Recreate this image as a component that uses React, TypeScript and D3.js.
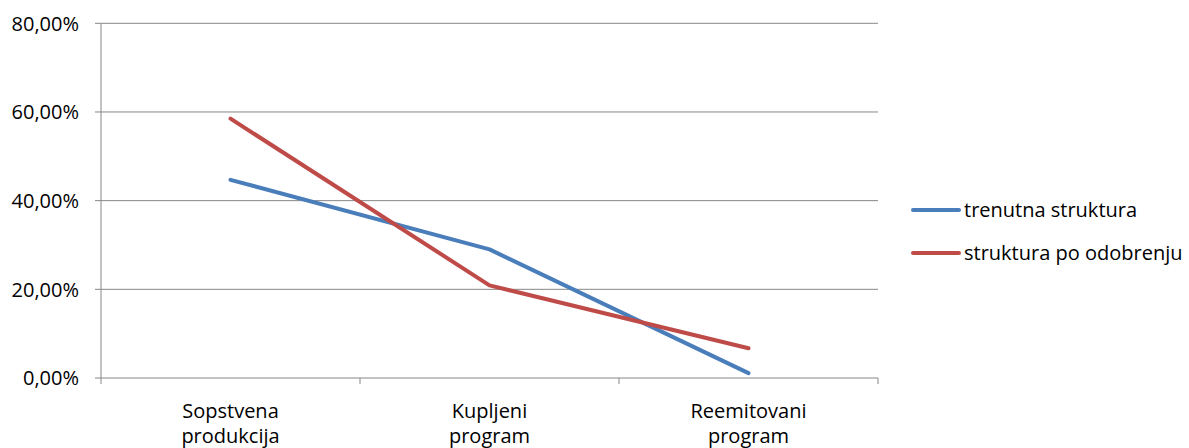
import React from "react";
import * as d3 from "d3";

const categories: string[][] = [["Sopstvena", "produkcija"], ["Kupljeni", "program"], ["Reemitovani", "program"]];
const seriesNames = ["trenutna struktura", "struktura po odobrenju"];
const trenutna = [0.447, 0.29, 0.011];
const poOdobrenju = [0.585, 0.209, 0.067];
const yTicks = [0, 0.2, 0.4, 0.6, 0.8];
const colors = ["#4a7ebb", "#be4b48"];

export default function App() {
  const W = 1189, H = 448;
  const left = 101, right = 878, top = 23.3, bottom = 378;
  const x = d3.scaleBand<number>().domain([0, 1, 2]).range([left, right]);
  const y = d3.scaleLinear().domain([0, 0.8]).range([bottom, top]);
  const line = d3.line<number>().x((_, i) => x(i)! + x.bandwidth() / 2).y(d => y(d));
  const fmt = (v: number) => (v * 100).toFixed(2).replace(".", ",") + "%";
  const font = "'Open Sans', sans-serif";
  const fs = 20;
  const series = [trenutna, poOdobrenju];
  return (
    <svg width={W} height={H} style={{ position: "absolute", left: 0, top: 0 }} fontFamily={font}>
      <rect width={W} height={H} fill="#fff" />
      {yTicks.map(t => (
        <g key={t}>
          <line x1={left - 6} x2={right} y1={y(t)} y2={y(t)} stroke="#868686" strokeWidth={1} />
          <text x={79} y={y(t)} dy="0.36em" textAnchor="end" fontSize={fs} fill="#000">{fmt(t)}</text>
        </g>
      ))}
      <line x1={left} x2={left} y1={top} y2={bottom + 6} stroke="#868686" strokeWidth={1} />
      {[1, 2, 3].map(i => (
        <line key={i} x1={left + i * x.bandwidth()} x2={left + i * x.bandwidth()} y1={bottom} y2={bottom + 6} stroke="#868686" />
      ))}
      {categories.map((c, i) => (
        <text key={i} x={x(i)! + x.bandwidth() / 2} textAnchor="middle" fontSize={fs} fill="#000">
          <tspan x={x(i)! + x.bandwidth() / 2} y={418}>{c[0]}</tspan>
          <tspan x={x(i)! + x.bandwidth() / 2} y={443}>{c[1]}</tspan>
        </text>
      ))}
      {series.map((s, k) => (
        <path key={k} d={line(s) || ""} fill="none" stroke={colors[k]} strokeWidth={4} strokeLinecap="round" strokeLinejoin="round" />
      ))}
      {seriesNames.map((n, k) => (
        <g key={n}>
          <line x1={913} x2={959} y1={210 + k * 43} y2={210 + k * 43} stroke={colors[k]} strokeWidth={4} strokeLinecap="round" />
          <text x={964} y={210 + k * 43} dy="0.36em" fontSize={fs} fill="#000">{n}</text>
        </g>
      ))}
    </svg>
  );
}
